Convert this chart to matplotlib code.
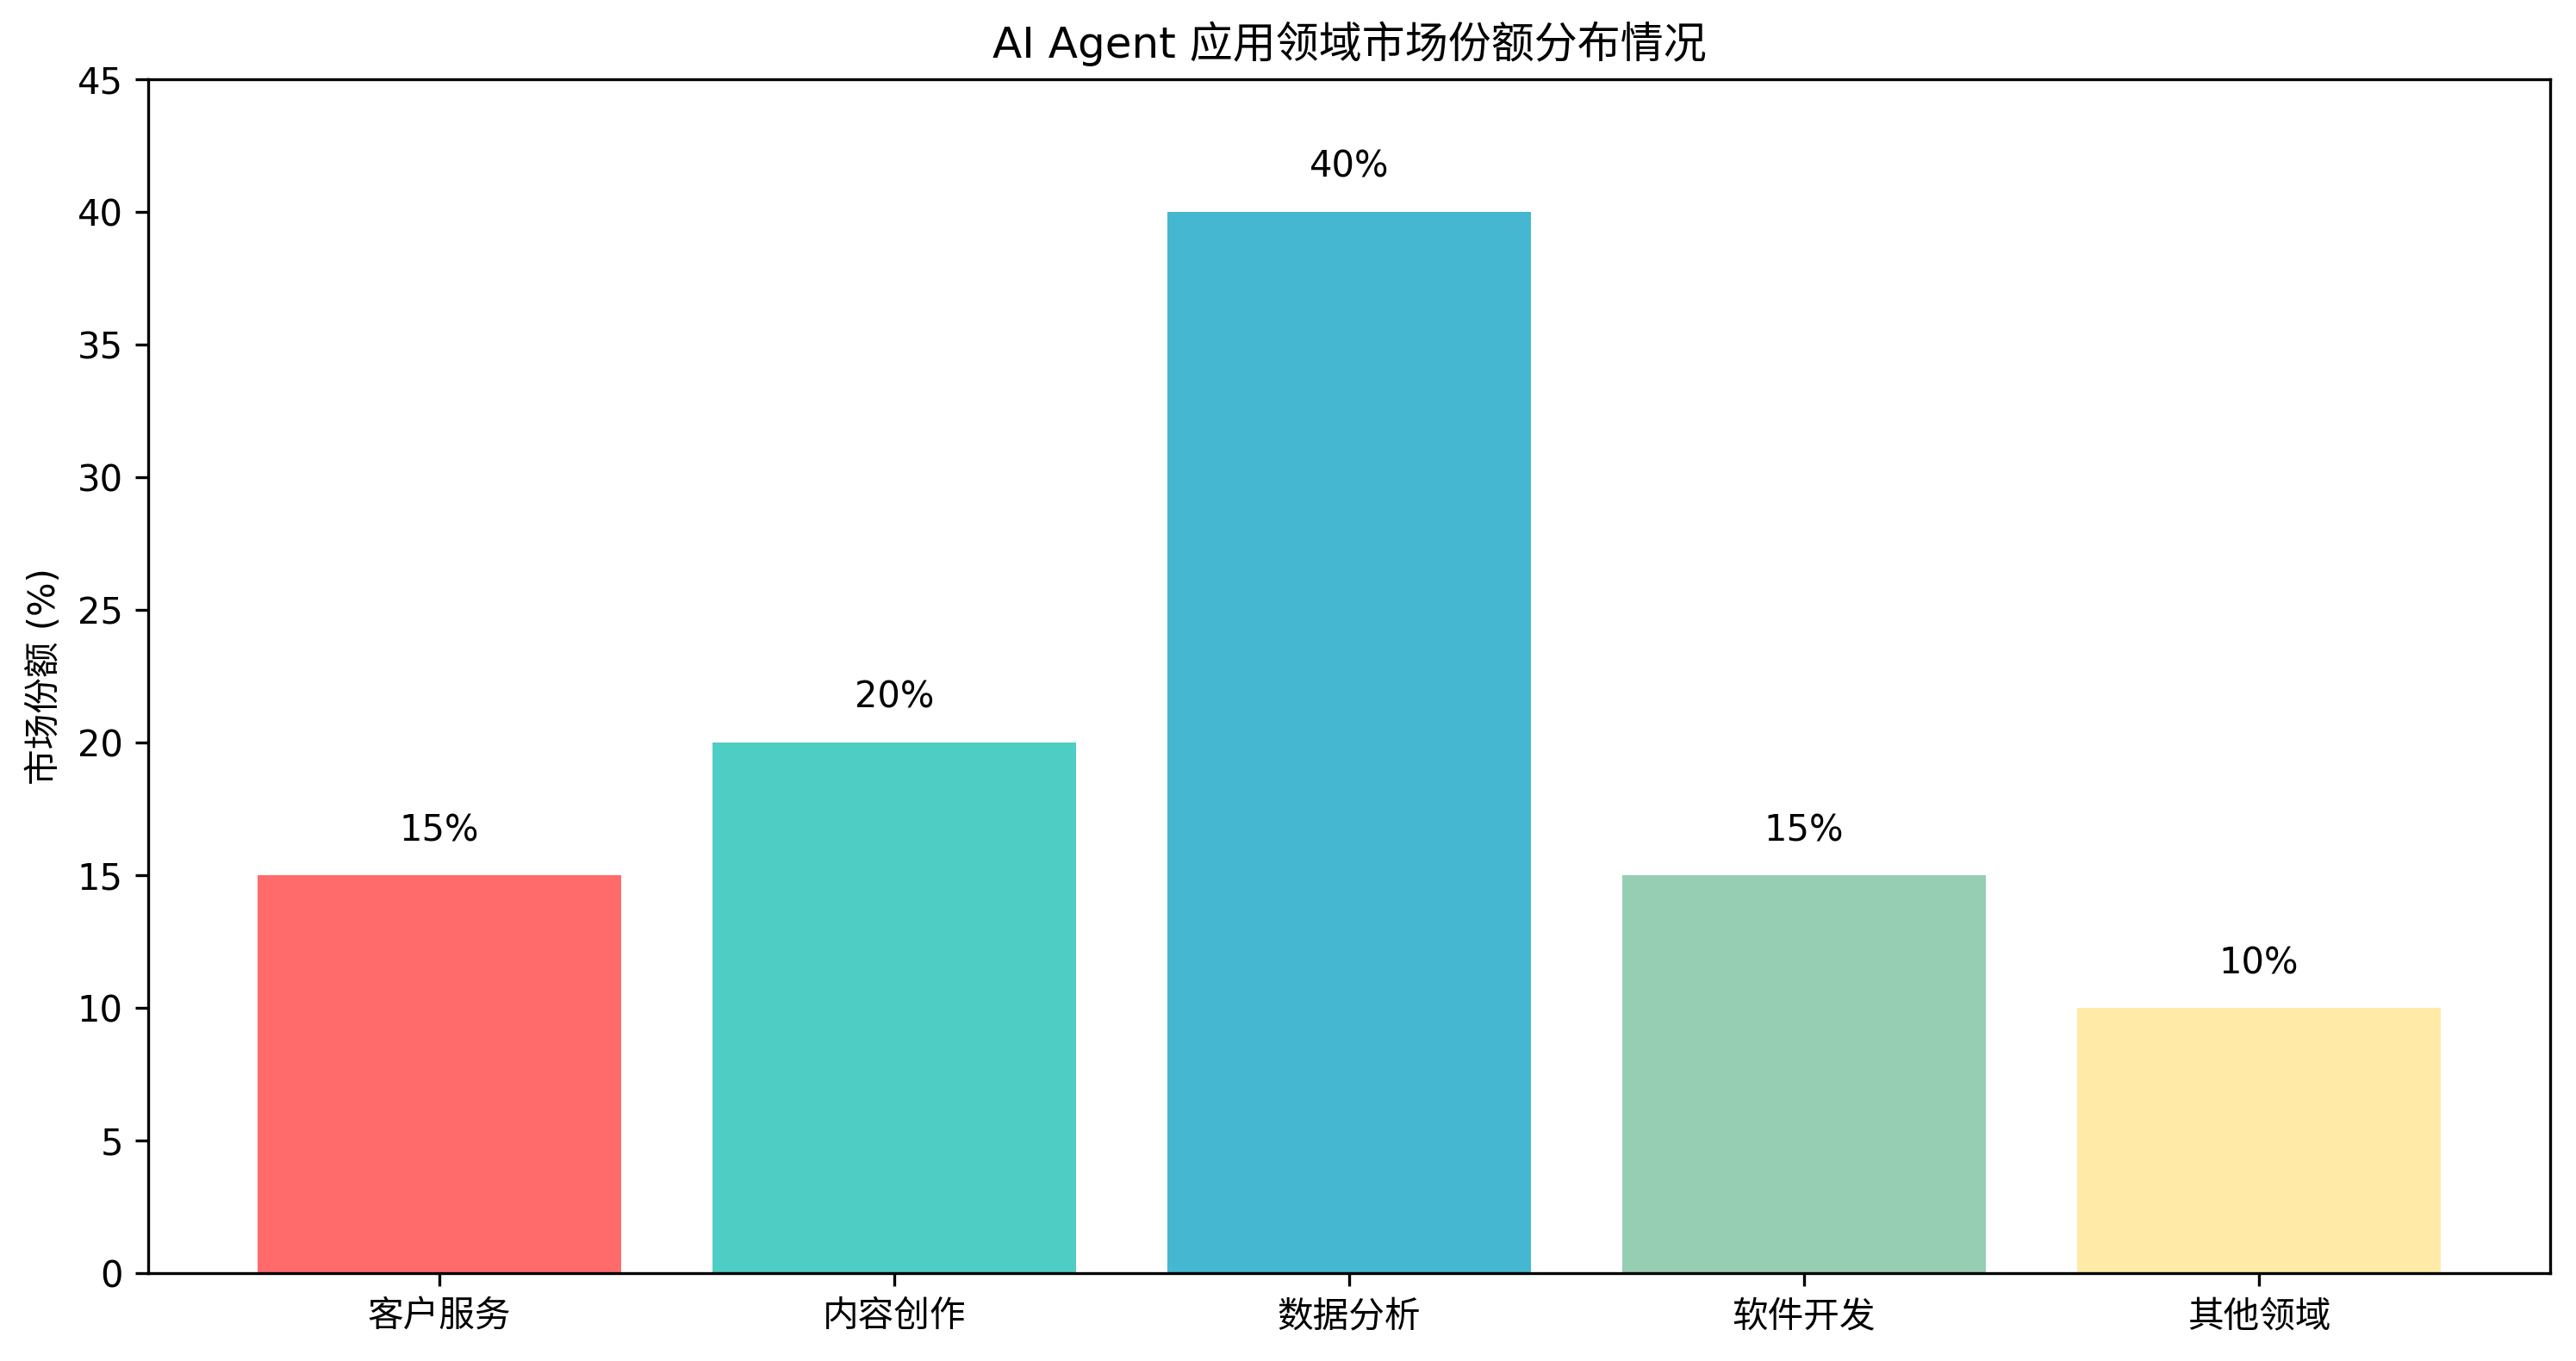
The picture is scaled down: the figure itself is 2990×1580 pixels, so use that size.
import matplotlib
matplotlib.use('Agg')
import matplotlib.pyplot as plt

# Latin text in DejaVu Sans, Chinese falls back to Noto Sans CJK SC
plt.rcParams['font.family'] = ['DejaVu Sans', 'Noto Sans CJK SC']
plt.rcParams['axes.unicode_minus'] = False

# data
categories = ['客户服务', '内容创作', '数据分析', '软件开发', '其他领域']
shares = [15, 20, 40, 15, 10]
colors = ['#FF6B6B', '#4ECDC4', '#45B7D1', '#96CEB4', '#FFEAA7']

fig, ax = plt.subplots(figsize=(2990 / 300, 1580 / 300), dpi=300)
fig.subplots_adjust(left=0.0575, right=0.990, top=0.942, bottom=0.0646)

bars = ax.bar(categories, shares, color=colors, width=0.8)

# value labels above bars
for bar, v in zip(bars, shares):
    ax.text(bar.get_x() + bar.get_width() / 2, v + 1, f'{v}%',
            ha='center', va='bottom')

ax.set_ylim(0, 45)
ax.set_title('AI Agent 应用领域市场份额分布情况')
ax.set_ylabel('市场份额 (%)')

fig.savefig('out.png', dpi=300)
